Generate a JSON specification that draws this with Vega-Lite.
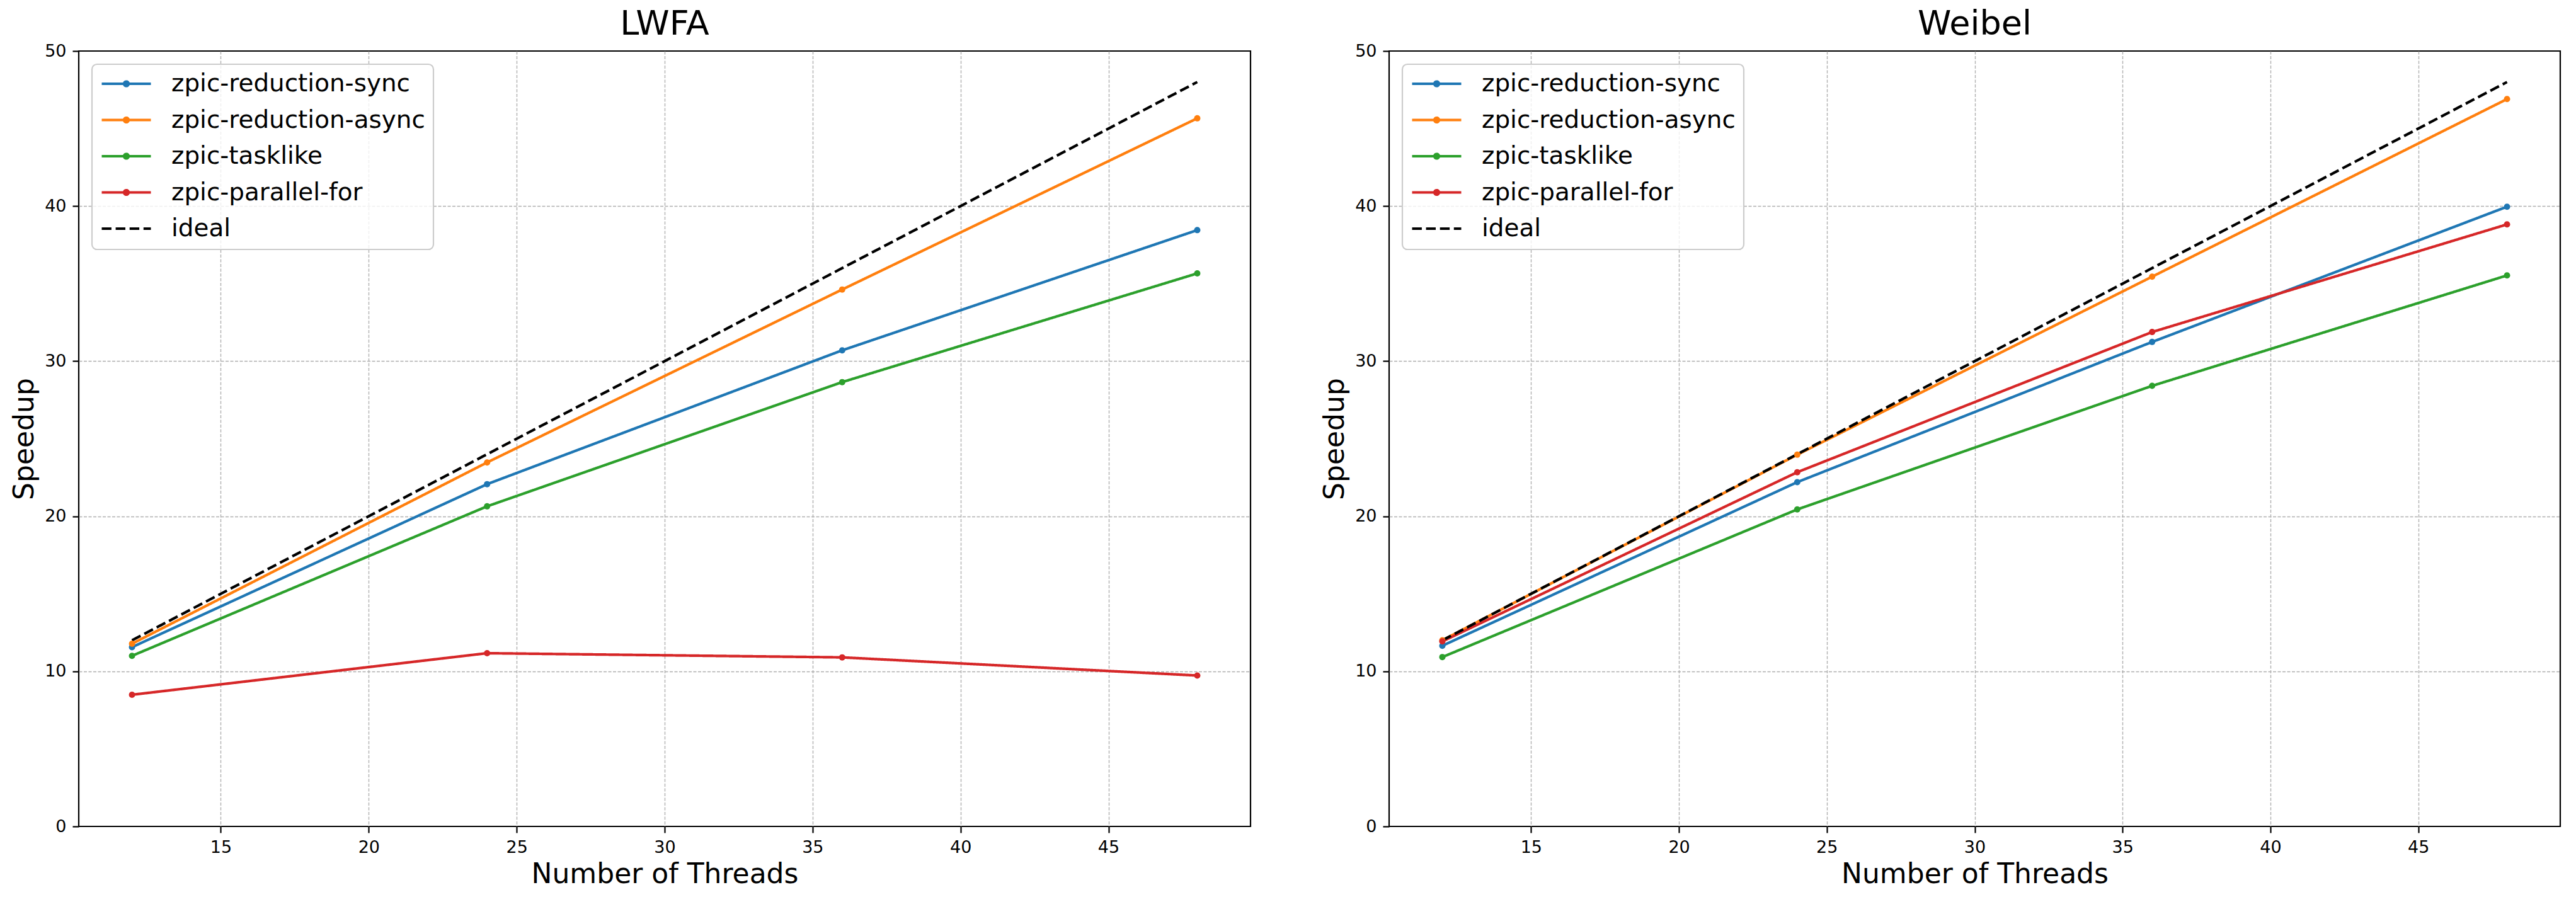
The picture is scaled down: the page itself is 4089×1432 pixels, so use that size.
{
  "$schema": "https://vega.github.io/schema/vega-lite/v6.json",
  "background": "white",
  "padding": {"left": 16, "top": 10, "right": 10, "bottom": 10},
  "datasets": {
    "speedup": [
      {"panel": "LWFA", "series": "zpic-reduction-sync", "threads": 12, "speedup": 11.56},
      {"panel": "LWFA", "series": "zpic-reduction-sync", "threads": 24, "speedup": 22.07},
      {"panel": "LWFA", "series": "zpic-reduction-sync", "threads": 36, "speedup": 30.7},
      {"panel": "LWFA", "series": "zpic-reduction-sync", "threads": 48, "speedup": 38.45},
      {"panel": "LWFA", "series": "zpic-reduction-async", "threads": 12, "speedup": 11.78},
      {"panel": "LWFA", "series": "zpic-reduction-async", "threads": 24, "speedup": 23.47},
      {"panel": "LWFA", "series": "zpic-reduction-async", "threads": 36, "speedup": 34.62},
      {"panel": "LWFA", "series": "zpic-reduction-async", "threads": 48, "speedup": 45.66},
      {"panel": "LWFA", "series": "zpic-tasklike", "threads": 12, "speedup": 11.0},
      {"panel": "LWFA", "series": "zpic-tasklike", "threads": 24, "speedup": 20.64},
      {"panel": "LWFA", "series": "zpic-tasklike", "threads": 36, "speedup": 28.65},
      {"panel": "LWFA", "series": "zpic-tasklike", "threads": 48, "speedup": 35.66},
      {"panel": "LWFA", "series": "zpic-parallel-for", "threads": 12, "speedup": 8.49},
      {"panel": "LWFA", "series": "zpic-parallel-for", "threads": 24, "speedup": 11.17},
      {"panel": "LWFA", "series": "zpic-parallel-for", "threads": 36, "speedup": 10.9},
      {"panel": "LWFA", "series": "zpic-parallel-for", "threads": 48, "speedup": 9.73},
      {"panel": "LWFA", "series": "ideal", "threads": 12, "speedup": 12},
      {"panel": "LWFA", "series": "ideal", "threads": 24, "speedup": 24},
      {"panel": "LWFA", "series": "ideal", "threads": 36, "speedup": 36},
      {"panel": "LWFA", "series": "ideal", "threads": 48, "speedup": 48},
      {"panel": "Weibel", "series": "zpic-reduction-sync", "threads": 12, "speedup": 11.65},
      {"panel": "Weibel", "series": "zpic-reduction-sync", "threads": 24, "speedup": 22.2},
      {"panel": "Weibel", "series": "zpic-reduction-sync", "threads": 36, "speedup": 31.24},
      {"panel": "Weibel", "series": "zpic-reduction-sync", "threads": 48, "speedup": 39.96},
      {"panel": "Weibel", "series": "zpic-reduction-async", "threads": 12, "speedup": 12.0},
      {"panel": "Weibel", "series": "zpic-reduction-async", "threads": 24, "speedup": 23.97},
      {"panel": "Weibel", "series": "zpic-reduction-async", "threads": 36, "speedup": 35.45},
      {"panel": "Weibel", "series": "zpic-reduction-async", "threads": 48, "speedup": 46.9},
      {"panel": "Weibel", "series": "zpic-tasklike", "threads": 12, "speedup": 10.92},
      {"panel": "Weibel", "series": "zpic-tasklike", "threads": 24, "speedup": 20.44},
      {"panel": "Weibel", "series": "zpic-tasklike", "threads": 36, "speedup": 28.41},
      {"panel": "Weibel", "series": "zpic-tasklike", "threads": 48, "speedup": 35.53},
      {"panel": "Weibel", "series": "zpic-parallel-for", "threads": 12, "speedup": 11.93},
      {"panel": "Weibel", "series": "zpic-parallel-for", "threads": 24, "speedup": 22.84},
      {"panel": "Weibel", "series": "zpic-parallel-for", "threads": 36, "speedup": 31.88},
      {"panel": "Weibel", "series": "zpic-parallel-for", "threads": 48, "speedup": 38.82},
      {"panel": "Weibel", "series": "ideal", "threads": 12, "speedup": 12},
      {"panel": "Weibel", "series": "ideal", "threads": 24, "speedup": 24},
      {"panel": "Weibel", "series": "ideal", "threads": 36, "speedup": 36},
      {"panel": "Weibel", "series": "ideal", "threads": 48, "speedup": 48}
    ]
  },
  "config": {
    "font": "DejaVu Sans",
    "view": {"stroke": "#000000", "strokeWidth": 2.2},
    "axis": {
      "domain": false,
      "grid": true,
      "gridColor": "#b0b0b0",
      "gridDash": [5, 2.5],
      "gridWidth": 1.4,
      "ticks": true,
      "tickColor": "#000000",
      "tickWidth": 2.2,
      "tickSize": 10,
      "labelFontSize": 27,
      "labelColor": "#000000",
      "labelPadding": 10,
      "titleFontSize": 44,
      "titleFontWeight": "normal",
      "titleColor": "#000000"
    },
    "axisX": {"titlePadding": 8},
    "axisY": {"titlePadding": 9, "gridOpacity": {"condition": {"test": "datum.value === 0 || datum.value === 50", "value": 0}, "value": 1}},
    "title": {"fontSize": 54, "fontWeight": "normal", "anchor": "middle", "offset": 1, "color": "#000000"},
    "legend": {
      "title": null,
      "orient": "top-left",
      "offset": 21,
      "padding": 13,
      "fillColor": "rgba(255,255,255,0.8)",
      "strokeColor": "#cccccc",
      "cornerRadius": 8,
      "labelFontSize": 38.9,
      "labelColor": "#000000",
      "labelOffset": 30,
      "labelLimit": 1000,
      "symbolSize": 6084,
      "symbolStrokeWidth": 4.2,
      "clipHeight": 36,
      "rowPadding": 18.5
    }
  },
  "spacing": 109,
  "resolve": {"legend": {"color": "independent"}},
  "hconcat": [
    {
      "title": "LWFA",
      "width": 1860,
      "height": 1231,
      "data": {"name": "speedup"},
      "transform": [{"filter": "datum.panel === 'LWFA'"}],
      "layer": [
        {
          "mark": {"type": "line", "strokeWidth": 4.2},
          "encoding": {
            "x": {"field": "threads", "type": "quantitative", "scale": {"domain": [10.2, 49.8], "nice": false, "zero": false}, "axis": {"values": [15, 20, 25, 30, 35, 40, 45], "title": "Number of Threads"}},
            "y": {"field": "speedup", "type": "quantitative", "scale": {"domain": [0, 50], "nice": false}, "axis": {"values": [0, 10, 20, 30, 40, 50], "title": "Speedup"}},
            "color": {
              "field": "series", "type": "nominal",
              "scale": {"domain": ["zpic-reduction-sync", "zpic-reduction-async", "zpic-tasklike", "zpic-parallel-for", "ideal"], "range": ["#1f77b4", "#ff7f0e", "#2ca02c", "#d62728", "#000000"]},
              "legend": {
                "encode": {
                  "symbols": {"update": {
                    "shape": {"signal": "datum.value === 'ideal' ? 'M-1,0L1,0' : 'M-1,0L1,0M0.09,0A0.09,0.09,0,1,1,-0.09,0A0.09,0.09,0,1,1,0.09,0Z'"},
                    "strokeDash": {"signal": "datum.value === 'ideal' ? [15.4, 6.7] : [1, 0]"},
                    "stroke": {"signal": "datum.value === 'zpic-reduction-sync' ? '#1f77b4' : datum.value === 'zpic-reduction-async' ? '#ff7f0e' : datum.value === 'zpic-tasklike' ? '#2ca02c' : datum.value === 'zpic-parallel-for' ? '#d62728' : '#000000'"},
                    "fill": {"signal": "datum.value === 'zpic-reduction-sync' ? '#1f77b4' : datum.value === 'zpic-reduction-async' ? '#ff7f0e' : datum.value === 'zpic-tasklike' ? '#2ca02c' : datum.value === 'zpic-parallel-for' ? '#d62728' : '#000000'"},
                    "strokeWidth": {"value": 4.2},
                    "opacity": {"value": 1}
                  }},
                  "legend": {"update": {"strokeWidth": {"value": 2.2}}}
                }
              }
            },
            "strokeDash": {
              "field": "series", "type": "nominal",
              "scale": {"domain": ["zpic-reduction-sync", "zpic-reduction-async", "zpic-tasklike", "zpic-parallel-for", "ideal"], "range": [[1, 0], [1, 0], [1, 0], [1, 0], [15.4, 6.7]]},
              "legend": null
            }
          }
        },
        {
          "transform": [{"filter": "datum.series !== 'ideal'"}],
          "mark": {"type": "point", "filled": true, "size": 100, "opacity": 1},
          "encoding": {
            "x": {"field": "threads", "type": "quantitative"},
            "y": {"field": "speedup", "type": "quantitative"},
            "color": {"field": "series", "type": "nominal"}
          }
        }
      ]
    },
    {
      "title": "Weibel",
      "width": 1859,
      "height": 1231,
      "data": {"name": "speedup"},
      "transform": [{"filter": "datum.panel === 'Weibel'"}],
      "layer": [
        {
          "mark": {"type": "line", "strokeWidth": 4.2},
          "encoding": {
            "x": {"field": "threads", "type": "quantitative", "scale": {"domain": [10.2, 49.8], "nice": false, "zero": false}, "axis": {"values": [15, 20, 25, 30, 35, 40, 45], "title": "Number of Threads"}},
            "y": {"field": "speedup", "type": "quantitative", "scale": {"domain": [0, 50], "nice": false}, "axis": {"values": [0, 10, 20, 30, 40, 50], "title": "Speedup"}},
            "color": {
              "field": "series", "type": "nominal",
              "scale": {"domain": ["zpic-reduction-sync", "zpic-reduction-async", "zpic-tasklike", "zpic-parallel-for", "ideal"], "range": ["#1f77b4", "#ff7f0e", "#2ca02c", "#d62728", "#000000"]},
              "legend": {
                "encode": {
                  "symbols": {"update": {
                    "shape": {"signal": "datum.value === 'ideal' ? 'M-1,0L1,0' : 'M-1,0L1,0M0.09,0A0.09,0.09,0,1,1,-0.09,0A0.09,0.09,0,1,1,0.09,0Z'"},
                    "strokeDash": {"signal": "datum.value === 'ideal' ? [15.4, 6.7] : [1, 0]"},
                    "stroke": {"signal": "datum.value === 'zpic-reduction-sync' ? '#1f77b4' : datum.value === 'zpic-reduction-async' ? '#ff7f0e' : datum.value === 'zpic-tasklike' ? '#2ca02c' : datum.value === 'zpic-parallel-for' ? '#d62728' : '#000000'"},
                    "fill": {"signal": "datum.value === 'zpic-reduction-sync' ? '#1f77b4' : datum.value === 'zpic-reduction-async' ? '#ff7f0e' : datum.value === 'zpic-tasklike' ? '#2ca02c' : datum.value === 'zpic-parallel-for' ? '#d62728' : '#000000'"},
                    "strokeWidth": {"value": 4.2},
                    "opacity": {"value": 1}
                  }},
                  "legend": {"update": {"strokeWidth": {"value": 2.2}}}
                }
              }
            },
            "strokeDash": {
              "field": "series", "type": "nominal",
              "scale": {"domain": ["zpic-reduction-sync", "zpic-reduction-async", "zpic-tasklike", "zpic-parallel-for", "ideal"], "range": [[1, 0], [1, 0], [1, 0], [1, 0], [15.4, 6.7]]},
              "legend": null
            }
          }
        },
        {
          "transform": [{"filter": "datum.series !== 'ideal'"}],
          "mark": {"type": "point", "filled": true, "size": 100, "opacity": 1},
          "encoding": {
            "x": {"field": "threads", "type": "quantitative"},
            "y": {"field": "speedup", "type": "quantitative"},
            "color": {"field": "series", "type": "nominal"}
          }
        }
      ]
    }
  ]
}
